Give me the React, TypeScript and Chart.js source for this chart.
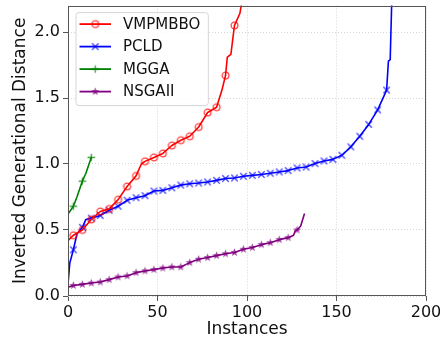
import React, { useEffect, useRef } from 'react';
import { Chart, registerables } from 'chart.js';

Chart.register(...registerables);

// ---- data ----
const seriesNames = ['VMPMBBO', 'PCLD', 'MGGA', 'NSGAII'];

const vmpX = [0, 3, 8, 13, 18, 23, 28, 33, 38, 41, 43, 48, 53, 58, 63, 68, 73, 78, 83, 86, 88, 89, 91, 93, 96, 98];
const vmpY = [0.42, 0.46, 0.5, 0.58, 0.64, 0.66, 0.73, 0.83, 0.91, 1.0, 1.02, 1.05, 1.08, 1.14, 1.18, 1.21, 1.28, 1.39, 1.43, 1.56, 1.67, 1.81, 1.83, 2.05, 2.14, 2.3];
const vmpMark = [0, 1, 1, 1, 1, 1, 1, 1, 1, 0, 1, 1, 1, 1, 1, 1, 1, 1, 1, 0, 1, 0, 0, 1, 0, 0];

const pcldX = [0, 1, 3, 5, 8, 10, 13, 18, 23, 28, 33, 38, 43, 48, 53, 58, 63, 68, 73, 78, 83, 88, 93, 98, 103, 108, 113, 118, 123, 128, 133, 138, 143, 148, 153, 158, 163, 168, 173, 178, 179, 180, 181];
const pcldY = [0.09, 0.25, 0.35, 0.47, 0.52, 0.58, 0.59, 0.61, 0.65, 0.68, 0.725, 0.745, 0.76, 0.795, 0.8, 0.82, 0.84, 0.85, 0.856, 0.864, 0.876, 0.89, 0.894, 0.907, 0.914, 0.92, 0.93, 0.94, 0.95, 0.97, 0.977, 1.003, 1.023, 1.035, 1.066, 1.13, 1.21, 1.3, 1.41, 1.56, 1.78, 1.79, 2.3];
const pcldMark = [0, 0, 1, 0, 1, 0, 1, 1, 1, 1, 1, 1, 1, 1, 1, 1, 1, 1, 1, 1, 1, 1, 1, 1, 1, 1, 1, 1, 1, 1, 1, 1, 1, 1, 1, 1, 1, 1, 1, 1, 0, 0, 0];

const mggaX = [0, 3, 5, 8, 10, 13];
const mggaY = [0.62, 0.68, 0.75, 0.87, 0.93, 1.05];
const mggaMark = [0, 1, 0, 1, 0, 1];

const nsgaX = [0, 3, 8, 13, 18, 23, 28, 33, 38, 43, 48, 53, 58, 63, 68, 73, 78, 83, 88, 93, 98, 103, 108, 113, 118, 123, 126, 127, 128, 130, 132];
const nsgaY = [0.067, 0.08, 0.088, 0.098, 0.106, 0.124, 0.144, 0.152, 0.177, 0.19, 0.2, 0.212, 0.22, 0.22, 0.253, 0.278, 0.291, 0.306, 0.32, 0.33, 0.354, 0.367, 0.389, 0.404, 0.427, 0.442, 0.46, 0.495, 0.5, 0.53, 0.62];
const nsgaMark = [0, 1, 1, 1, 1, 1, 1, 1, 1, 1, 1, 1, 1, 1, 1, 1, 1, 1, 1, 1, 1, 1, 1, 1, 1, 1, 0, 0, 1, 0, 0];

const xTicksStep = 50;
const yTicksStep = 0.5;
const xMin = 0, xMax = 200, yMin = 0, yMax = 2.2;

const xTitle = 'Instances';
const yTitle = 'Inverted Generational Distance';

// ---- styles ----
const colors = ['#ff0000', '#0000ff', '#008000', '#800080'];
const FONT = "'DejaVu Sans', sans-serif";

function makeMarker(kind: string, color: string): HTMLCanvasElement {
  const c = document.createElement('canvas');
  c.width = 11;
  c.height = 11;
  const g = c.getContext('2d')!;
  const cx = 5.5, cy = 5.5;
  g.strokeStyle = color;
  g.fillStyle = color;
  g.lineWidth = 1.3;
  g.globalAlpha = 0.75;
  if (kind === 'circle') {
    g.beginPath();
    g.arc(cx, cy, 3.4, 0, Math.PI * 2);
    g.stroke();
  } else if (kind === 'x') {
    const r = 3.2;
    g.beginPath();
    g.moveTo(cx - r, cy - r); g.lineTo(cx + r, cy + r);
    g.moveTo(cx - r, cy + r); g.lineTo(cx + r, cy - r);
    g.stroke();
  } else if (kind === 'plus') {
    const r = 3.8;
    g.beginPath();
    g.moveTo(cx - r, cy); g.lineTo(cx + r, cy);
    g.moveTo(cx, cy - r); g.lineTo(cx, cy + r);
    g.stroke();
  } else {
    const R = 4.2, r = 1.8;
    g.beginPath();
    for (let i = 0; i < 10; i++) {
      const rad = i % 2 === 0 ? R : r;
      const a = -Math.PI / 2 + (i * Math.PI) / 5;
      const px = cx + rad * Math.cos(a), py = cy + rad * Math.sin(a);
      if (i === 0) g.moveTo(px, py); else g.lineTo(px, py);
    }
    g.closePath();
    g.fill();
  }
  return c;
}

export default function App() {
  const ref = useRef<HTMLCanvasElement | null>(null);

  useEffect(() => {
    const canvas = ref.current;
    if (!canvas) return;
    const markers = [
      makeMarker('circle', colors[0]),
      makeMarker('x', colors[1]),
      makeMarker('plus', colors[2]),
      makeMarker('star', colors[3]),
    ];
    const xs = [vmpX, pcldX, mggaX, nsgaX];
    const ys = [vmpY, pcldY, mggaY, nsgaY];
    const ms = [vmpMark, pcldMark, mggaMark, nsgaMark];

    const datasets = seriesNames.map((name, i) => ({
      label: name,
      data: xs[i].map((x, k) => ({ x, y: ys[i][k] })),
      borderColor: colors[i],
      backgroundColor: colors[i],
      borderWidth: 1.6,
      tension: 0,
      fill: false,
      pointStyle: markers[i],
      pointRadius: (ctx: any) => (ms[i][ctx.dataIndex] ? 4 : 0),
      pointHoverRadius: 0,
    }));

    const framePlugin = {
      id: 'frame',
      afterDraw(chart: any) {
        const { ctx, chartArea: a } = chart;
        ctx.save();
        ctx.strokeStyle = '#555555';
        ctx.lineWidth = 1;
        ctx.strokeRect(Math.round(a.left) + 0.5, Math.round(a.top) + 0.5, Math.round(a.right - a.left) - 1, Math.round(a.bottom - a.top) - 1);
        // legend
        const fontSize = 15;
        ctx.font = `${fontSize}px ${FONT}`;
        let maxW = 0;
        seriesNames.forEach((n) => { maxW = Math.max(maxW, ctx.measureText(n).width); });
        const bx = a.left + 8, by = a.top + 7;
        const lineX0 = bx + 3.5, lineX1 = bx + 35;
        const textX = bx + 47;
        const bw = textX - bx + maxW + 8;
        const rowH = 22.5;
        const bh = rowH * 4 + 3;
        ctx.beginPath();
        const rr = 3;
        ctx.moveTo(bx + rr, by);
        ctx.lineTo(bx + bw - rr, by);
        ctx.quadraticCurveTo(bx + bw, by, bx + bw, by + rr);
        ctx.lineTo(bx + bw, by + bh - rr);
        ctx.quadraticCurveTo(bx + bw, by + bh, bx + bw - rr, by + bh);
        ctx.lineTo(bx + rr, by + bh);
        ctx.quadraticCurveTo(bx, by + bh, bx, by + bh - rr);
        ctx.lineTo(bx, by + rr);
        ctx.quadraticCurveTo(bx, by, bx + rr, by);
        ctx.closePath();
        ctx.fillStyle = 'rgba(255,255,255,0.85)';
        ctx.fill();
        ctx.strokeStyle = '#d6d6d6';
        ctx.lineWidth = 1;
        ctx.stroke();
        seriesNames.forEach((n, i) => {
          const cy = by + 11.5 + i * rowH;
          ctx.strokeStyle = colors[i];
          ctx.lineWidth = 1.8;
          ctx.beginPath();
          ctx.moveTo(lineX0, cy);
          ctx.lineTo(lineX1, cy);
          ctx.stroke();
          const m = markers[i];
          ctx.drawImage(m, (lineX0 + lineX1) / 2 - m.width / 2, cy - m.height / 2);
          ctx.fillStyle = '#111111';
          ctx.textBaseline = 'middle';
          ctx.textAlign = 'left';
          ctx.fillText(n, textX, cy + 1);
        });
        ctx.restore();
      },
    };

    const tickFont = { family: FONT, size: 16 };
    const titleFont = { family: FONT, size: 17 };

    const chart = new Chart(canvas, {
      type: 'line',
      data: { datasets: datasets as any },
      options: {
        animation: false,
        responsive: false,
        devicePixelRatio: 1,
        layout: { padding: { top: 5, right: 14, left: 0, bottom: 0 } },
        plugins: { legend: { display: false }, tooltip: { enabled: false } },
        elements: { line: { borderJoinStyle: 'round', borderCapStyle: 'round' } },
        scales: {
          x: {
            type: 'linear',
            min: xMin,
            max: xMax,
            ticks: { stepSize: xTicksStep, font: tickFont, color: '#111111', padding: 2, maxRotation: 0, includeBounds: false },
            grid: { color: '#d0d0d0', lineWidth: 0.9, drawTicks: true, tickLength: 5, tickColor: '#555555', tickWidth: 1, tickBorderDash: [] },
            border: { display: false, dash: [1, 2] },
            title: { display: true, text: xTitle, font: titleFont, color: '#111111', padding: { top: 0, bottom: 3 } },
            afterFit: (s: any) => { s.height = 47; s.paddingLeft = 0; s.paddingRight = 0; s.paddingTop = 0; s.paddingBottom = 0; },
          },
          y: {
            type: 'linear',
            min: yMin,
            max: yMax,
            ticks: { stepSize: yTicksStep, font: tickFont, color: '#111111', padding: 3, includeBounds: false, callback: (v: any) => Number(v).toFixed(1) },
            grid: { color: '#d0d0d0', lineWidth: 0.9, drawTicks: true, tickLength: 5, tickColor: '#555555', tickWidth: 1, tickBorderDash: [] },
            border: { display: false, dash: [1, 2] },
            title: { display: true, text: yTitle, font: titleFont, color: '#111111', padding: { top: 10, bottom: 0 } },
            afterFit: (s: any) => { s.width = 68; s.paddingLeft = 0; s.paddingRight = 0; s.paddingTop = 0; s.paddingBottom = 0; },
          },
        },
      },
      plugins: [framePlugin],
    });
    return () => chart.destroy();
  }, []);

  return (
    <div style={{ position: 'fixed', left: 0, top: 0, width: 440, height: 343, background: '#ffffff' }}>
      <canvas ref={ref} width={440} height={343} style={{ display: 'block', width: 440, height: 343 }} />
    </div>
  );
}
